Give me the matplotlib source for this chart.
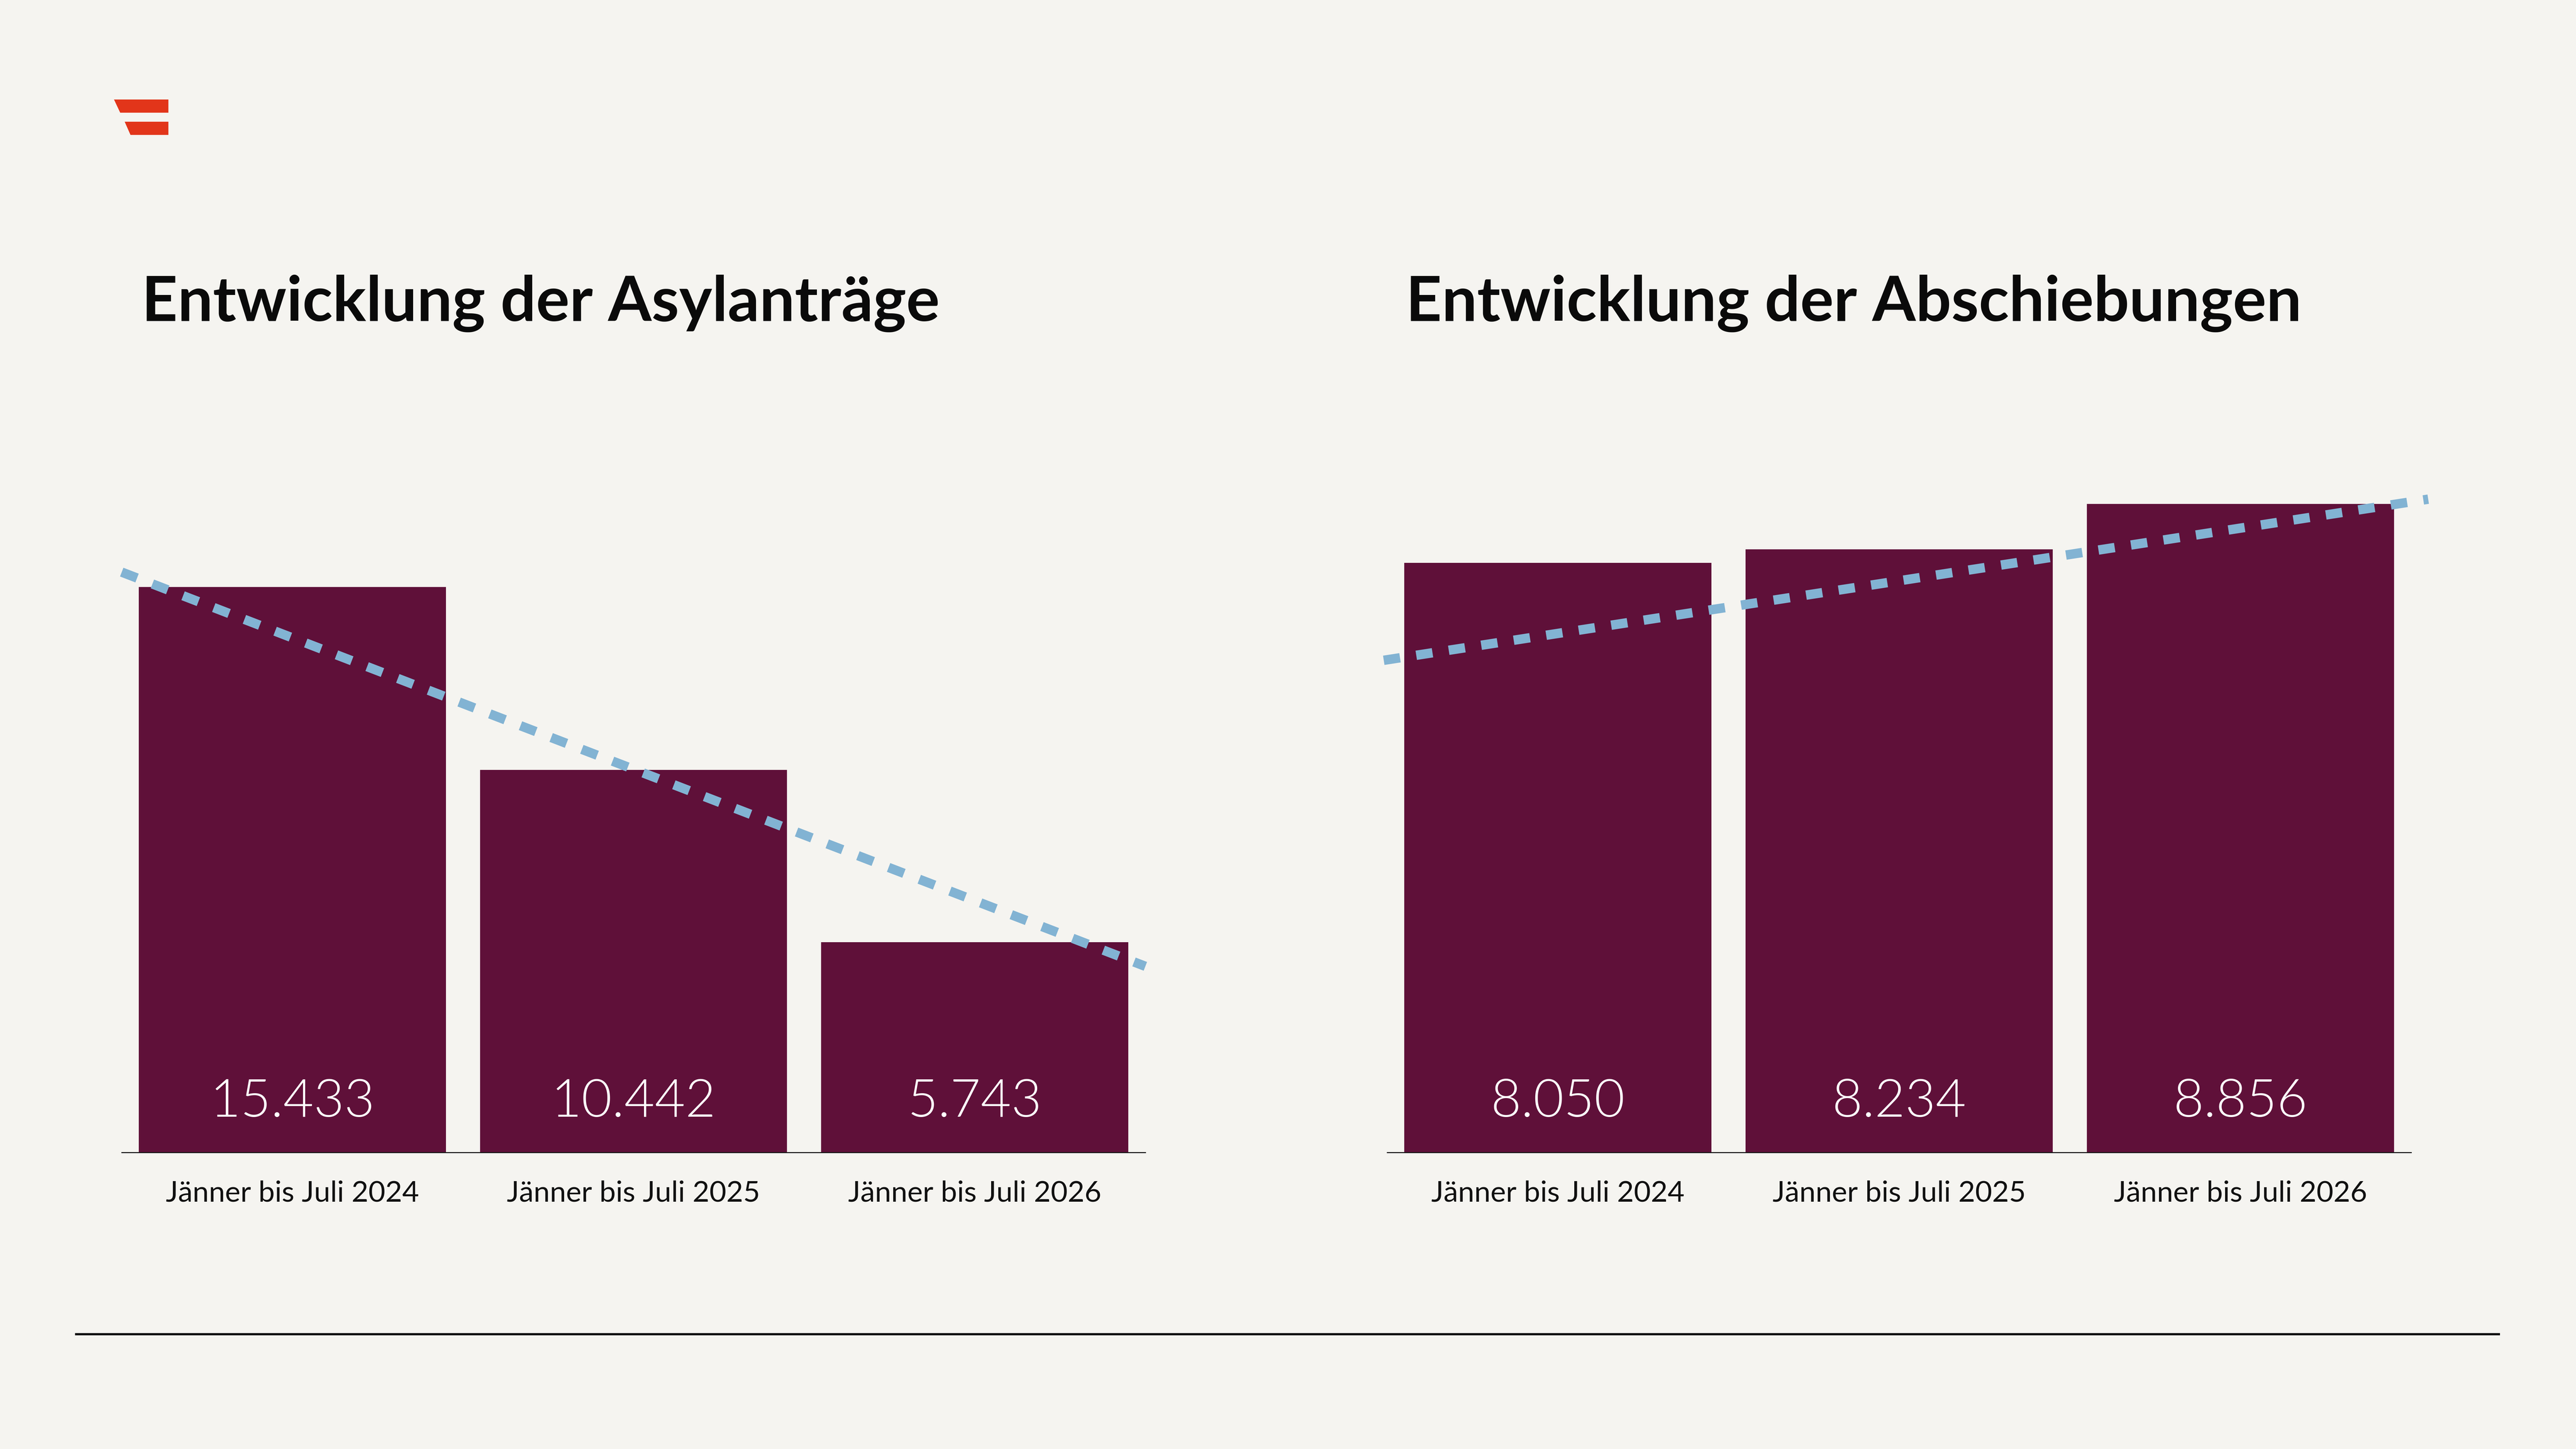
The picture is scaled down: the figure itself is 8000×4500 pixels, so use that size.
import matplotlib
matplotlib.use('Agg')
import matplotlib.pyplot as plt
from matplotlib.patches import Polygon

plt.rcParams['font.family'] = ['Lato', 'DejaVu Sans']

# Daten
periods = ['Jänner bis Juli 2024', 'Jänner bis Juli 2025', 'Jänner bis Juli 2026']
asyl = [15433, 10442, 5743]
abschiebungen = [8050, 8234, 8856]

# Trendlinien (Endpunkte)
asyl_trend_x = [-0.5, 2.5]
asyl_trend_y = [15840, 5080]
absch_trend_x = [-0.51, 2.55]
absch_trend_y = [6720, 8920]

bg = '#F5F4F0'
bar_col = '#5F1039'
trend_col = '#82B3D3'

W, H = 8000, 4500
fig = plt.figure(figsize=(16, 9), dpi=500, facecolor=bg)


def px(x, y):
    return x / W, 1 - y / H


def draw_panel(rect, values, ymax, tx, ty, title, title_x):
    ax = fig.add_axes(rect)
    ax.set_facecolor('none')
    x = range(len(values))
    ax.bar(x, values, width=0.9, color=bar_col, zorder=2)
    ax.plot(tx, ty, color=trend_col, lw=4.2, dashes=(1.75, 1.75),
            solid_capstyle='butt', dash_capstyle='butt', clip_on=False, zorder=3)
    ax.set_xlim(-0.5, 2.5)
    ax.set_ylim(0, ymax)
    for s in ['top', 'right', 'left']:
        ax.spines[s].set_visible(False)
    ax.spines['bottom'].set_linewidth(0.45)
    ax.spines['bottom'].set_color('#111111')
    ax.spines['bottom'].set_zorder(4)
    ax.set_yticks([])
    ax.set_xticks(list(x))
    ax.set_xticklabels(periods, fontsize=13, color='#111111')
    ax.tick_params(axis='x', length=0, pad=12.5)
    for i, v in enumerate(values):
        ax.annotate(f'{v:,}'.replace(',', '.'), (i, 0), xytext=(0, 16),
                    textcoords='offset points', ha='center', va='baseline',
                    color='white', fontsize=23.5, fontweight=300, zorder=5)
    fig.text(*px(title_x, 997), title, fontsize=28, fontweight='bold',
             color='#0A0A0A', ha='left', va='baseline')
    return ax


top_px = 1250
base_px = 3579
h = (base_px - top_px) / H
b = (H - base_px) / H

draw_panel([378 / W, b, 3179 / W, h], asyl, 20470,
           asyl_trend_x, asyl_trend_y, 'Entwicklung der Asylanträge', 440)
draw_panel([4308 / W, b, 3180 / W, h], abschiebungen, 10240,
           absch_trend_x, absch_trend_y, 'Entwicklung der Abschiebungen', 4366)

# Logo
red = '#E2351A'
fig.patches.append(Polygon([px(359, 312), px(519, 312), px(519, 346), px(375, 346)],
                           closed=True, transform=fig.transFigure, color=red))
fig.patches.append(Polygon([px(392, 381), px(519, 381), px(519, 415), px(407, 415)],
                           closed=True, transform=fig.transFigure, color=red))

# Linie unten
fig.add_artist(plt.Line2D([236 / W, 7760 / W], [1 - 4143 / H] * 2,
                          transform=fig.transFigure, color='#111111', lw=1.0))

fig.savefig('out.png', dpi=500, facecolor=bg)
